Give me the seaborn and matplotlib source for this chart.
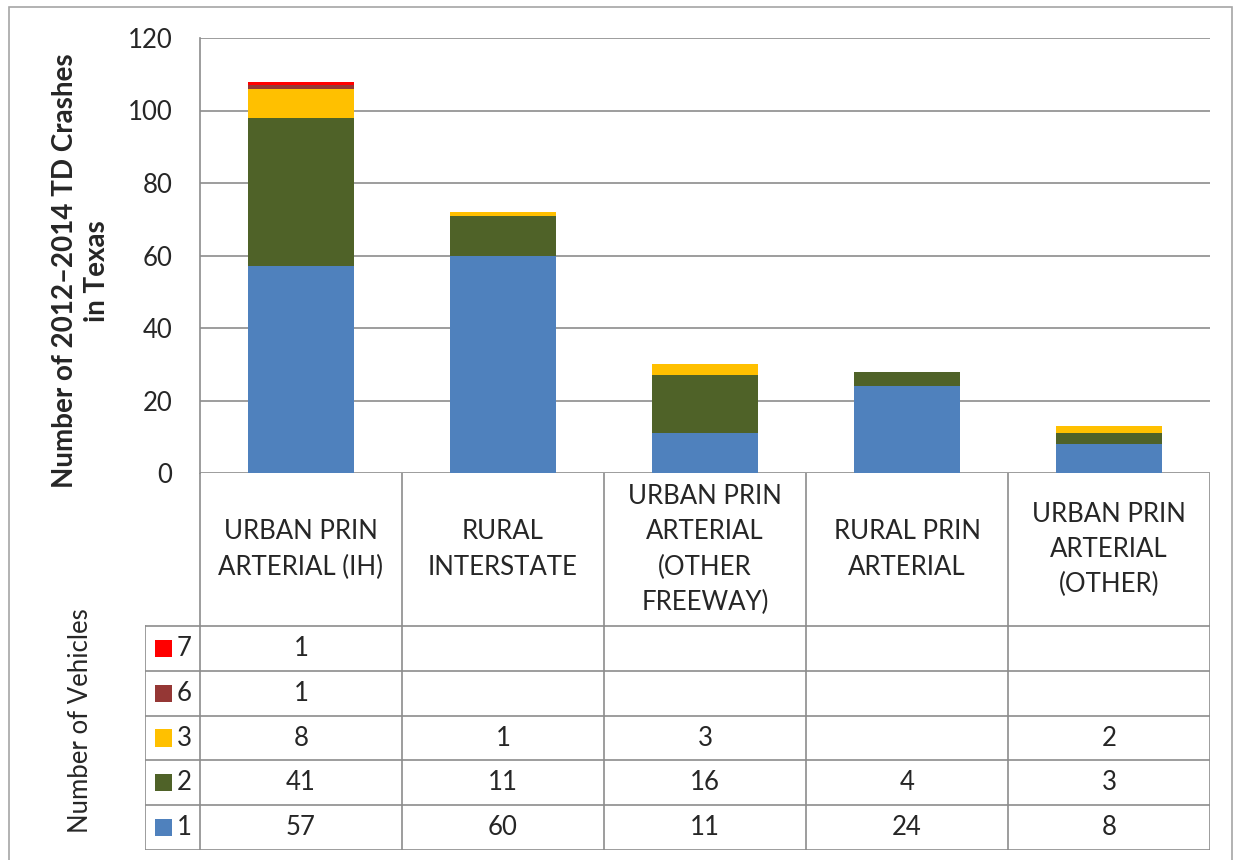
import numpy as np
import pandas as pd
import matplotlib
matplotlib.use("Agg")
import matplotlib.pyplot as plt
import seaborn as sns
from matplotlib.patches import Rectangle

categories = ['URBAN PRIN\nARTERIAL (IH)', 'RURAL\nINTERSTATE',
              'URBAN PRIN\nARTERIAL\n(OTHER\nFREEWAY)', 'RURAL PRIN\nARTERIAL',
              'URBAN PRIN\nARTERIAL\n(OTHER)']
veh1 = [57, 60, 11, 24, 8]
veh2 = [41, 11, 16, 4, 3]
veh3 = [8, 1, 3, 0, 2]
veh6 = [1, 0, 0, 0, 0]
veh7 = [1, 0, 0, 0, 0]
series_names = ['1', '2', '3', '6', '7']
colors = ['#4F81BD', '#4F6228', '#FFC000', '#953735', '#FF0000']

sns.set_style("white")
plt.rcParams['font.family'] = ['Lato', 'DejaVu Sans']
FS = 18.5

W, H = 1238, 860
fig = plt.figure(figsize=(W / 100, H / 100), dpi=100)

# pixel layout
px_l, px_r = 200, 1210
px_top, px_zero = 38, 473
px_tab_l, px_tab_b = 145, 850

ax = fig.add_axes([px_l / W, 1 - px_zero / H, (px_r - px_l) / W, (px_zero - px_top) / H])

series = [veh1, veh2, veh3, veh6, veh7]
cum = np.cumsum(np.array(series), axis=0)
# draw tallest stack first, lower segments on top
for k in range(len(series) - 1, -1, -1):
    df = pd.DataFrame({'cat': categories, 'val': cum[k]})
    sns.barplot(data=df, x='cat', y='val', color=colors[k], saturation=1,
                width=0.52, ax=ax, order=categories, linewidth=0)

grid_c = '#8C8C8C'
ax.set_ylim(0, 120)
ax.set_xlim(-0.5, 4.5)
ax.set_yticks(range(0, 121, 20))
ax.yaxis.grid(True, color=grid_c, lw=1.2)
ax.set_axisbelow(True)
ax.tick_params(axis='y', labelsize=FS, length=0, pad=20)
ax.set_xticks([])
ax.set_xlabel('')
ax.set_ylabel('Number of 2012\u20132014 TD Crashes\nin Texas', fontsize=20,
              fontweight='bold', linespacing=1.25, va='center')
ax.yaxis.set_label_coords((81 - px_l) / (px_r - px_l), (px_zero - 271) / (px_zero - px_top))
for s in ['top', 'right', 'bottom']:
    ax.spines[s].set_visible(False)
ax.spines['left'].set_color(grid_c)
ax.spines['left'].set_linewidth(1.2)

# data table
row_h = (px_tab_b - 626) / 5
hdr_h = (626 - px_zero) / row_h
unit = (px_r - px_l) / 5
x_left = -0.5 - (px_l - px_tab_l) / unit
tax = fig.add_axes([px_tab_l / W, 1 - px_tab_b / H, (px_r - px_tab_l) / W, (px_tab_b - px_zero) / H])
tax.set_xlim(x_left, 4.5)
tax.set_ylim(0, 5 + hdr_h)
tax.axis('off')

lk = dict(color=grid_c, lw=1.2, solid_capstyle='projecting')
for i in range(6):
    tax.plot([i - 0.5, i - 0.5], [0, 5 + hdr_h], **lk)
tax.plot([x_left, x_left], [0, 5], **lk)
for r in range(6):
    tax.plot([x_left, 4.5], [r, r], **lk)

for i, c in enumerate(categories):
    tax.text(i, 5 + hdr_h / 2, c, ha='center', va='center', fontsize=FS,
             linespacing=1.52)

for k, vals in enumerate(series):
    yc = k + 0.5
    for i, v in enumerate(vals):
        if v:
            tax.text(i, yc, str(v), ha='center', va='center', fontsize=FS)
    sq = 17 / unit
    tax.add_patch(Rectangle((x_left + 10 / unit, yc - 0.19), sq, 0.38,
                            color=colors[k], lw=0))
    tax.text(x_left + 32 / unit, yc, series_names[k], ha='left', va='center',
             fontsize=FS)

fig.text(81 / W, 1 - 721 / H, 'Number of Vehicles', rotation=90, ha='center',
         va='center', fontsize=FS)

# outer chart border
fig.patches.append(Rectangle((9 / W, -0.1), (1232 - 9) / W, 1.1 - 7 / H,
                             transform=fig.transFigure, fill=False,
                             edgecolor='#A6A6A6', lw=1.2))

fig.savefig('out.png', dpi=100)
